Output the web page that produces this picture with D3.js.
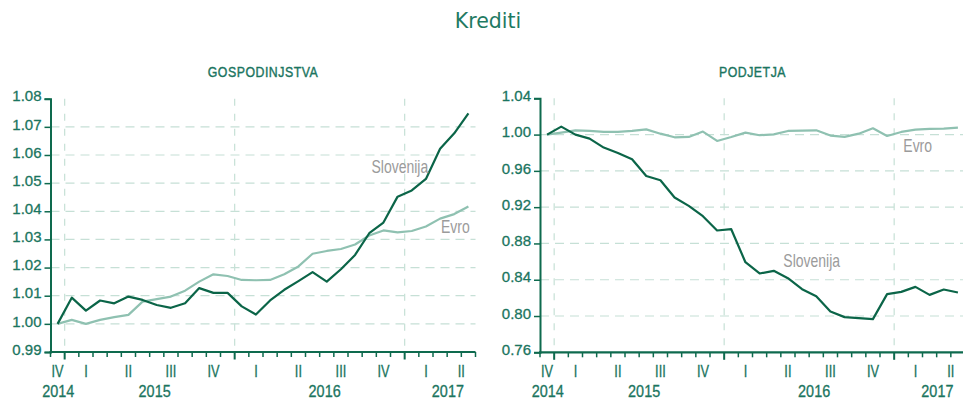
<!DOCTYPE html>
<html>
<head>
<meta charset="utf-8">
<script src="https://cdn.jsdelivr.net/npm/d3@7"></script>
<style>
  body { margin: 0; background: #fff; }
  svg { display: block; }
</style>
</head>
<body>
<div id="root"></div>
<script>
// monthly index, Dec 2014 = 1.00
const months = ["2014-12",
    "2015-01", "2015-02", "2015-03", "2015-04", "2015-05", "2015-06",
    "2015-07", "2015-08", "2015-09", "2015-10", "2015-11", "2015-12",
    "2016-01", "2016-02", "2016-03", "2016-04", "2016-05", "2016-06",
    "2016-07", "2016-08", "2016-09", "2016-10", "2016-11", "2016-12",
    "2017-01", "2017-02", "2017-03", "2017-04", "2017-05"];

const quarterLabels = ["IV", "I", "II", "III", "IV", "I", "II", "III", "IV", "I", "II"];
const quarterPos = [0.5, 2.5, 5.5, 8.5, 11.5, 14.5, 17.5, 20.5, 23.5, 26.5, 29];
const yearLabels = ["2014", "2015", "2016", "2017"];
const yearPos = [0.55, 7.35, 19.35, 28.05];

const gospSlovenija = [1.000, 1.0093, 1.0047, 1.0083, 1.0073, 1.0097, 1.0085, 1.0067, 1.0057, 1.0073,
    1.0127, 1.0110, 1.0110, 1.0062, 1.0033, 1.0083, 1.0121, 1.0152, 1.0184, 1.0150,
    1.0194, 1.0245, 1.0322, 1.0360, 1.0452, 1.0474, 1.0515, 1.0622, 1.0677, 1.0748];
const gospEvro = [1.000, 1.0014, 1.000, 1.0014, 1.0024, 1.0032, 1.0079, 1.0088, 1.0097, 1.0118,
    1.0150, 1.0176, 1.0170, 1.0156, 1.0155, 1.0156, 1.0176, 1.0204, 1.0249, 1.0259,
    1.0266, 1.0282, 1.0314, 1.0332, 1.0325, 1.0330, 1.0346, 1.0374, 1.0390, 1.0417];
const podSlovenija = [1.000, 1.0088, 1.000, 0.9956, 0.9857, 0.9798, 0.9728, 0.9544, 0.9497, 0.9306,
    0.9214, 0.9100, 0.8943, 0.8957, 0.8593, 0.8469, 0.8498, 0.8417, 0.8296, 0.8219,
    0.8050, 0.7988, 0.7977, 0.7966, 0.8241, 0.8266, 0.8321, 0.8233, 0.8292, 0.8259];
const podEvro = [1.000, 1.0022, 1.0047, 1.0040, 1.0029, 1.0029, 1.0040, 1.0058, 1.0010, 0.9970,
    0.9974, 1.0033, 0.9930, 0.9974, 1.0022, 0.9993, 1.0003, 1.0040, 1.0044, 1.0047,
    0.9989, 0.9974, 1.0010, 1.0069, 0.9985, 1.0029, 1.0055, 1.0062, 1.0066, 1.0077];

const gospTicks = [0.99, 1.00, 1.01, 1.02, 1.03, 1.04, 1.05, 1.06, 1.07, 1.08];
const podTicks = [0.76, 0.80, 0.84, 0.88, 0.92, 0.96, 1.00, 1.04];

const W = 963, H = 400;
const COL = {
    axis: "#0e6a4e",
    text: "#1b7560",
    grid: "#c6e0d6",
    slo: "#0b6548",
    evro: "#8fc1b1",
    label: "#9b9b9b"
};
const SANS = "'Liberation Sans', Arial, sans-serif";

// condensed look: regular sans squeezed horizontally
function squeezed(sel, x, y, sx) {
    return sel.attr("transform", `translate(${x},${y}) scale(${sx},1)`);
}

class LinePanel {
    constructor(svg, con) {
        this.con = con;
        this.g = svg.append("g");
        this.x = d3.scaleLinear().domain([0, months.length]).range([con.x0, con.x1]);
        this.y = d3.scaleLinear().domain(d3.extent(con.ticks)).range([con.yBottom, con.yTop]);
        this.drawGrid();
        this.drawAxes();
        this.drawLines();
        this.drawLabels();
    }

    drawGrid() {
        const { x, y, con } = this;
        const inner = con.ticks.slice(1, -1);
        this.g.selectAll(".hgrid")
            .data(inner)
            .enter().append("line")
            .attr("x1", con.x0).attr("x2", con.x1)
            .attr("y1", d => y(d)).attr("y2", d => y(d))
            .attr("stroke", COL.grid)
            .attr("stroke-width", 1.2)
            .attr("stroke-dasharray", "9,6");

        // year boundaries
        this.g.selectAll(".vgrid")
            .data([1, 13, 25])
            .enter().append("line")
            .attr("x1", d => x(d)).attr("x2", d => x(d))
            .attr("y1", con.yTop).attr("y2", con.yBottom)
            .attr("stroke", COL.grid)
            .attr("stroke-width", 1.2)
            .attr("stroke-dasharray", "7,8");
    }

    drawAxes() {
        const { x, y, con } = this;
        const yAxis = d3.axisLeft(y)
            .tickValues(con.ticks)
            .tickFormat(d3.format(".2f"))
            .tickSize(6)
            .tickPadding(3);
        const ya = this.g.append("g")
            .attr("transform", `translate(${con.x0},0)`)
            .call(yAxis);
        ya.select(".domain").attr("stroke", COL.axis).attr("stroke-width", 2);
        ya.selectAll(".tick line").attr("stroke", COL.axis).attr("stroke-width", 1.5);
        ya.selectAll(".tick text")
            .attr("fill", COL.text)
            .attr("stroke", COL.text)
            .attr("stroke-width", 0.3)
            .attr("dy", "0.15em")
            .style("font-family", SANS)
            .style("font-size", "15px");

        const monthTicks = d3.range(0, months.length + 1);
        const xg = this.g.append("g");
        xg.selectAll(".mtick")
            .data(monthTicks)
            .enter().append("line")
            .attr("x1", d => x(d)).attr("x2", d => x(d))
            .attr("y1", con.yBottom)
            .attr("y2", d => con.yBottom + ((d - 1) % 12 === 0 ? 7.5 : 5))
            .attr("stroke", COL.axis)
            .attr("stroke-width", d => ((d - 1) % 12 === 0 ? 2 : 1.5));
        xg.append("line")
            .attr("x1", con.x0 - 1).attr("x2", con.x1)
            .attr("y1", con.yBottom).attr("y2", con.yBottom)
            .attr("stroke", COL.axis)
            .attr("stroke-width", 2.2);

        xg.selectAll(".qlab")
            .data(quarterLabels)
            .enter().append("text")
            .each(function (d, i) {
                squeezed(d3.select(this), x(quarterPos[i]), con.yBottom + 24.5, 0.8);
            })
            .attr("text-anchor", "middle")
            .attr("fill", COL.text)
            .attr("stroke", COL.text)
            .attr("stroke-width", 0.3)
            .style("font-family", SANS)
            .style("font-size", "16px")
            .text(d => d);

        xg.selectAll(".ylab")
            .data(yearLabels)
            .enter().append("text")
            .each(function (d, i) {
                squeezed(d3.select(this), x(yearPos[i]), con.yBottom + 44.5, 0.9);
            })
            .attr("text-anchor", "middle")
            .attr("fill", COL.text)
            .attr("stroke", COL.text)
            .attr("stroke-width", 0.3)
            .style("font-family", SANS)
            .style("font-size", "16px")
            .text(d => d);
    }

    drawLines() {
        const { x, y } = this;
        const line = d3.line()
            .x((d, i) => x(i + 0.5))
            .y(d => y(d));
        this.con.series.forEach(s => {
            this.g.append("path")
                .datum(s.values)
                .attr("d", line)
                .attr("fill", "none")
                .attr("stroke", s.color)
                .attr("stroke-width", 2.2)
                .attr("stroke-linejoin", "round");
        });
    }

    drawLabels() {
        const con = this.con;
        squeezed(this.g.append("text"), (con.x0 + con.x1) / 2, 77.3, 0.88)
            .attr("text-anchor", "middle")
            .attr("fill", COL.text)
            .attr("stroke", COL.text)
            .attr("stroke-width", 0.4)
            .style("font-family", SANS)
            .style("font-size", "14px")
            .style("letter-spacing", "0.6px")
            .text(con.title);

        con.series.forEach(s => {
            squeezed(this.g.append("text"), s.lx, s.ly, 0.8)
                .attr("fill", COL.label)
                .style("font-family", SANS)
                .style("font-size", "17.5px")
                .text(s.name);
        });
    }
}

const svg = d3.select("#root").append("svg")
    .attr("width", W)
    .attr("height", H);

svg.append("rect").attr("width", W).attr("height", H).attr("fill", "#fff");

svg.append("text")
    .attr("x", 488)
    .attr("y", 28.3)
    .attr("text-anchor", "middle")
    .attr("fill", "#1f7a62")
    .style("font-family", "'DejaVu Sans', sans-serif")
    .style("font-size", "20.5px")
    .text("Krediti");

new LinePanel(svg, {
    title: "GOSPODINJSTVA",
    x0: 50.5, x1: 475.5,
    yTop: 98.7, yBottom: 352,
    ticks: gospTicks,
    series: [
        { name: "Evro", values: gospEvro, color: COL.evro, lx: 441, ly: 233.3 },
        { name: "Slovenija", values: gospSlovenija, color: COL.slo, lx: 371.5, ly: 172.7 }
    ]
});

new LinePanel(svg, {
    title: "PODJETJA",
    x0: 540, x1: 965,
    yTop: 98.3, yBottom: 352.3,
    ticks: podTicks,
    series: [
        { name: "Evro", values: podEvro, color: COL.evro, lx: 903.3, ly: 151.7 },
        { name: "Slovenija", values: podSlovenija, color: COL.slo, lx: 783.3, ly: 267.3 }
    ]
});
</script>
</body>
</html>
